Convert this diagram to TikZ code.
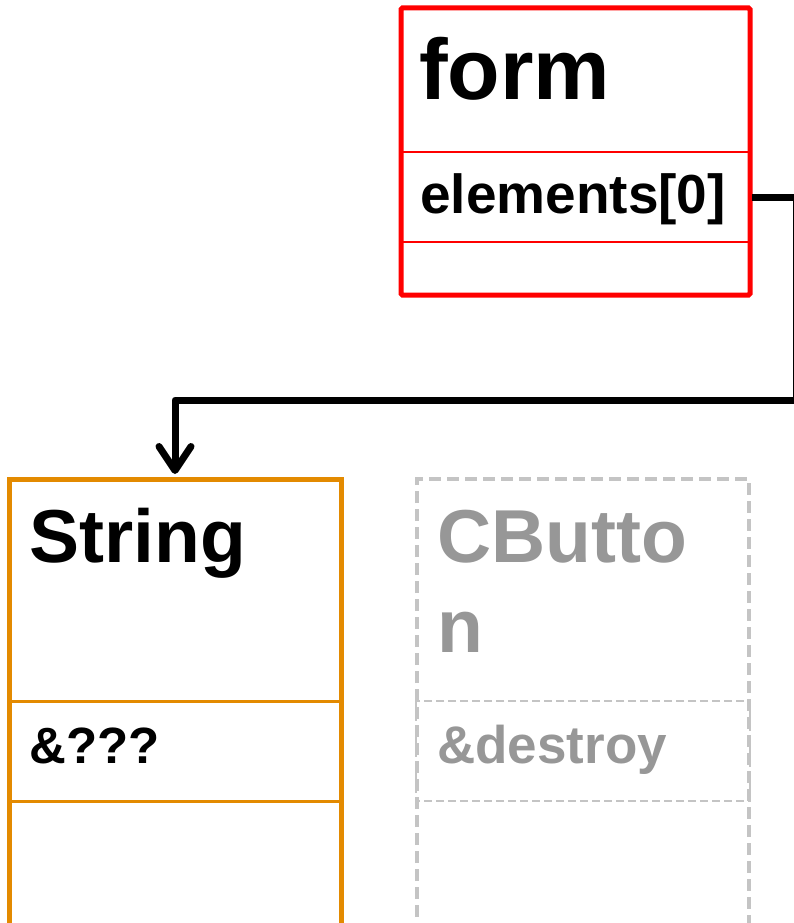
\documentclass[tikz,border=0pt]{standalone}
\usepackage{fontspec}
\setmainfont{Liberation Sans}
\usetikzlibrary{arrows.meta}
\definecolor{formred}{HTML}{FF0000}
\definecolor{strorange}{HTML}{E38A00}
\definecolor{ghostline}{HTML}{C4C4C4}
\definecolor{ghosttext}{HTML}{979797}
\tikzset{
  x=1pt, y=-1pt,
  lbl/.style={anchor=base west, inner sep=0pt},
  huge/.style={lbl, font=\fontsize{86}{90}\selectfont\bfseries},
  big/.style={lbl, font=\fontsize{75}{79}\selectfont\bfseries},
  mid/.style={lbl, font=\fontsize{55}{59}\selectfont\bfseries},
  small/.style={lbl, font=\fontsize{51}{55}\selectfont\bfseries},
  smallg/.style={lbl, font=\fontsize{53}{57}\selectfont\bfseries},
  conn/.style={line width=7pt, black, line join=round},
}
\begin{document}
\begin{tikzpicture}
\useasboundingbox (0,0) rectangle (793,923);
% form box
\draw[formred, line width=2pt] (401,152) -- (750,152);
\draw[formred, line width=2pt] (401,242) -- (750,242);
\draw[formred, line width=5pt, rounded corners=1.5pt] (401,8) rectangle (750,295);
\node[huge] (formt) at (419,100) {form};
\node[mid] (elt) at (420,213) {elements[0]};
\coordinate (elr) at (752,197);
% String box
\draw[strorange, line width=3pt] (8,701) -- (342,701);
\draw[strorange, line width=3pt] (8,801) -- (342,801);
\draw[strorange, line width=5pt] (9,935) -- (9,479) -- (341,479) -- (341,935);
\node[big] (strt) at (29,562) {String};
\node[small] (stramp) at (29,763) {\&???};
\coordinate (strtop) at (175,474);
% CButton ghost box
\draw[ghostline, line width=4pt, dash pattern=on 12pt off 6pt] (417,935) -- (417,479) -- (749,479) -- (749,935);
\draw[ghostline, line width=2.5pt, dash pattern=on 8pt off 4pt] (416,701) rectangle (750,801);
\node[big, text=ghosttext] (cbt1) at (437,562) {CButto};
\node[big, text=ghosttext] (cbt2) at (437,652) {n};
\node[smallg, text=ghosttext] (cbamp) at (437,763) {\&destroy};
% connector
\draw[conn, -{Straight Barb[length=24pt, width=32pt, line cap=round, line join=round]}]
  (elr) -- (796,197) -- (796,400) -- (175,400) -- (strtop);
\end{tikzpicture}
\end{document}
